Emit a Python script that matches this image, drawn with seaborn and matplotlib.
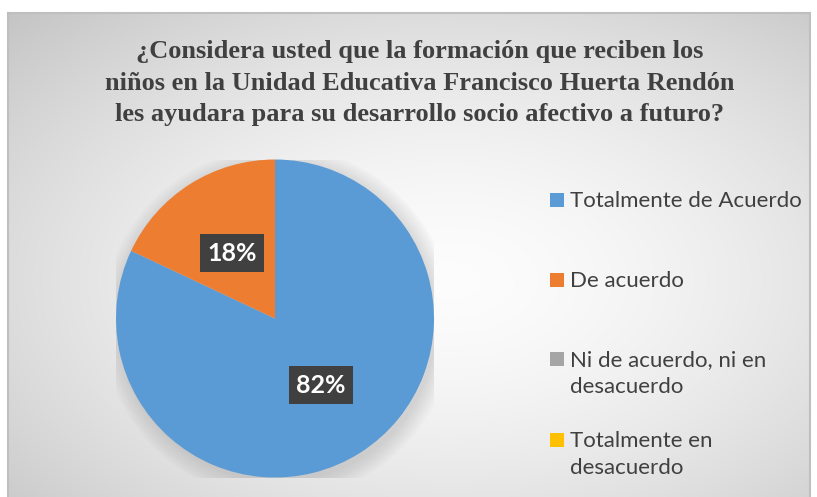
"""
Pie chart: formación y desarrollo socio afectivo
"""

import matplotlib
matplotlib.use('Agg')
import matplotlib.pyplot as plt
import matplotlib.patches as mpatches
import seaborn as sns
import numpy as np

# Data
categorias = ['Totalmente de Acuerdo', 'De acuerdo',
              'Ni de acuerdo, ni en\ndesacuerdo', 'Totalmente en\ndesacuerdo']
porcentajes = [82, 18, 0, 0]
colores = ['#5B9BD5', '#ED7D31', '#A5A5A5', '#FFC000']
titulo = ('¿Considera usted que la formación que reciben los\n'
          'niños en la Unidad Educativa Francisco Huerta Rendón\n'
          'les ayudara para su desarrollo socio afectivo a futuro?')

sns.set_theme(style='white')
plt.rcParams['font.family'] = ['Lato', 'DejaVu Sans']

W, H = 817, 497
fig = plt.figure(figsize=(W / 100, H / 100), dpi=100)
fig.patch.set_facecolor('white')

# Background panel with radial gradient
bg = fig.add_axes([8 / W, 0, (810 - 8) / W, (H - 13) / H])
yy, xx = np.mgrid[0:200, 0:330]
cx, cy = 330 * 0.55, 200 * 0.55
r = np.sqrt(((xx - cx) / 330) ** 2 + ((yy - cy) / 200) ** 2)
r = r / r.max()
g = 0.99 - 0.22 * r ** 1.6
bg.imshow(np.dstack([g, g, g]), aspect='auto', extent=[0, 1, 0, 1], interpolation='bicubic')
bg.set_xlim(0, 1)
bg.set_ylim(0, 1)
bg.set_xticks([])
bg.set_yticks([])
for side in ['left', 'top', 'right']:
    bg.spines[side].set_color('#bfbfbf')
    bg.spines[side].set_linewidth(1.5)
bg.spines['bottom'].set_visible(False)

# Title
fig.text(420 / W, 1 - 83 / H, titulo, ha='center', va='center',
         fontsize=19, fontweight='bold', color='#404040',
         family=['Liberation Serif'], linespacing=1.45)

# Pie
cxp, cyp, rad = 275, 318.5, 159
ax = fig.add_axes([(cxp - rad) / W, 1 - (cyp + rad) / H, 2 * rad / W, 2 * rad / H])
ax.set_facecolor('none')

# soft shadow
for k in range(8):
    ax.add_patch(mpatches.Circle((0.02, -0.03), 1.0 + 0.015 * k, color='#808080',
                                 alpha=0.035, zorder=0, lw=0))

wedges, texts = ax.pie(porcentajes, colors=colores, startangle=90, counterclock=False,
                       radius=1, wedgeprops={'linewidth': 0})
for w in wedges:
    w.set_zorder(2)

# data labels
lbl_pos = [(0.29, -0.42), (-0.27, 0.41)]
for (x, y), val in zip(lbl_pos, porcentajes[:2]):
    ax.text(x, y, f'{val}%', ha='center', va='center', fontsize=18, fontweight='bold',
            color='white', zorder=5,
            bbox=dict(boxstyle='square,pad=0.3', facecolor='#404040', edgecolor='none'))

ax.set_xlim(-1, 1)
ax.set_ylim(-1, 1)
ax.set_aspect('equal')
ax.axis('off')

# Legend
leg_y = [200, 280, 359, 440]
for lab, col, y in zip(categorias, colores, leg_y):
    fig.patches.append(mpatches.Rectangle((550 / W, 1 - (y + 7) / H), 14 / W, 14 / H,
                                          transform=fig.transFigure, facecolor=col,
                                          edgecolor='none', zorder=5))
    fig.text(570 / W, 1 - (y - 9) / H, lab, ha='left', va='top', fontsize=16,
             color='#404040', linespacing=1.45)

plt.savefig('out.png', dpi=100)
